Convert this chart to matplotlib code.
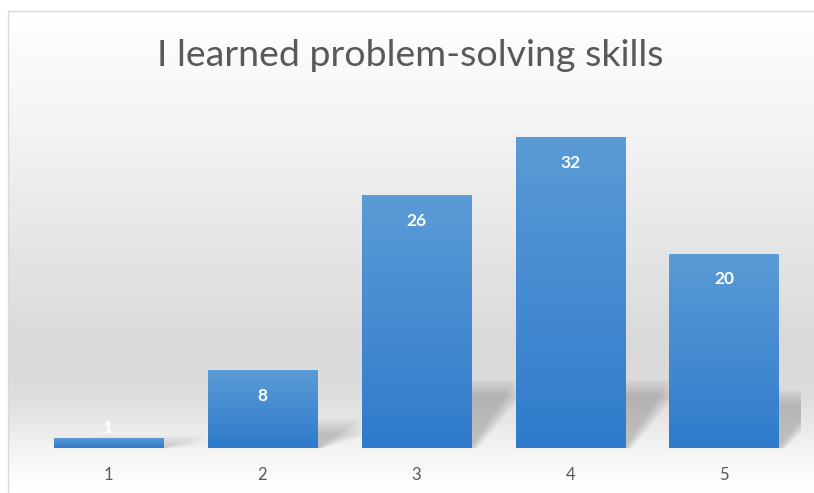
import numpy as np
import matplotlib
matplotlib.use("Agg")
import matplotlib.pyplot as plt
from matplotlib.colors import LinearSegmentedColormap
from matplotlib.patches import Polygon, Rectangle

# Chart data
categories = ["1", "2", "3", "4", "5"]
counts = [1, 8, 26, 32, 20]
title = "I learned problem-solving skills"

W, H = 814, 493
fig = plt.figure(figsize=(W / 100, H / 100), dpi=100)
fig.patch.set_facecolor("white")

# Background panel with vertical gradient (white -> light gray -> white)
bg_ax = fig.add_axes([8 / W, 0, 1 - 8 / W, (H - 11) / H])
bg_ax.set_axis_off()
bg_cmap = LinearSegmentedColormap.from_list(
    "bg",
    [(0.0, "#ffffff"), (0.25, "#f3f3f3"), (0.55, "#e2e2e2"),
     (0.70, "#d9d9d9"), (0.80, "#dddddd"), (0.93, "#f7f7f7"), (1.0, "#ffffff")])
grad = np.linspace(0, 1, 256).reshape(-1, 1)
bg_ax.imshow(grad, aspect="auto", cmap=bg_cmap, extent=[0, 1, 0, 1], origin="upper")
bg_ax.set_xlim(0, 1)
bg_ax.set_ylim(0, 1)
fig.patches.append(Rectangle((8 / W, -0.05), 1.1, (H - 11) / H + 0.05,
                             transform=fig.transFigure, fill=False,
                             edgecolor="#d9d9d9", linewidth=1.0, zorder=5))

# Plot area
ax = fig.add_axes([31.5 / W, (H - 448) / H, 769.5 / W, 340 / H])
ax.set_facecolor("none")
x = np.arange(len(categories))
width = 0.71
ax.set_xlim(-0.5, len(categories) - 0.5)
ax.set_ylim(0, 35)

bar_cmap = LinearSegmentedColormap.from_list("bar", ["#2f7bcb", "#5b9bd6"])

# soft drop shadows behind the bars
for xi, v in zip(x, counts):
    hs = min(7.0, 0.25 * v + 1)
    dx = 0.29
    for k in range(7):
        grow = 0.025 * k
        pts = [(xi - width / 2, 0), (xi + width / 2 + grow * 0.3, 0),
               (xi + width / 2 + dx + grow * 0.3, hs - grow * 10),
               (xi - width / 2 + dx, hs - grow * 10)]
        ax.add_patch(Polygon(pts, closed=True, facecolor="#777777",
                             edgecolor="none", alpha=0.065, zorder=1))

bars = ax.bar(x, counts, width=width, color="none", edgecolor="none", zorder=3)
for b, v in zip(bars, counts):
    x0 = b.get_x()
    img = ax.imshow(grad[::-1], aspect="auto", cmap=bar_cmap,
                    extent=[x0, x0 + b.get_width(), 0, v], origin="upper", zorder=3)
    img.set_clip_path(b)
ax.set_xlim(-0.5, len(categories) - 0.5)
ax.set_ylim(0, 35)

# data labels inside the bar ends
for xi, v in zip(x, counts):
    ly = v - 2.65 if v > 3 else v + 1.1
    ax.text(xi, ly, str(v), ha="center", va="center", color="white",
            fontsize=12.5, fontweight="bold", family="Lato", zorder=4)

ax.set_xticks(x)
ax.set_xticklabels(categories, fontsize=12, color="#595959", family="Lato")
ax.tick_params(axis="x", length=0, pad=14)
ax.set_yticks([])
for s in ax.spines.values():
    s.set_visible(False)

t = fig.text(410 / W, 1 - 55 / H, title, ha="center", va="center", fontsize=22,
             color="#595959", family="Lato")
# fit the title to the width it takes in the reference (~504 px)
fig.canvas.draw()
tw = t.get_window_extent().width
t.set_fontsize(22 * 504 / tw)

fig.savefig("out.png", dpi=100)
